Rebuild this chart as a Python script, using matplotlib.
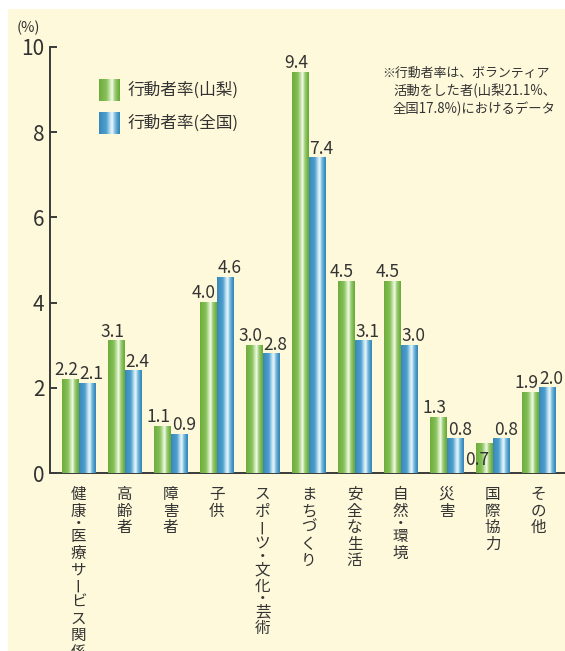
import numpy as np
import matplotlib
matplotlib.use("Agg")
import matplotlib.pyplot as plt
from matplotlib.colors import LinearSegmentedColormap
from matplotlib.patches import Rectangle

plt.rcParams['font.family'] = ['Noto Sans CJK JP', 'DejaVu Sans']

# ---- data ----
categories = ["健康・医療サービス関係", "高齢者", "障害者", "子供", "スポーツ・文化・芸術",
              "まちづくり", "安全な生活", "自然・環境", "災害", "国際協力", "その他"]
yamanashi = [2.2, 3.1, 1.1, 4.0, 3.0, 9.4, 4.5, 4.5, 1.3, 0.7, 1.9]
zenkoku = [2.1, 2.4, 0.9, 4.6, 2.8, 7.4, 3.1, 3.0, 0.8, 0.8, 2.0]
series_names = ["行動者率(山梨)", "行動者率(全国)"]
yticks = [0, 2, 4, 6, 8, 10]
note_lines = ["※行動者率は、ボランティア", "活動をした者(山梨21.1%、", "全国17.8%)におけるデータ"]

# ---- style ----
W, H = 565, 651
TXT = "#333333"
CREAM = "#FEF9DA"
green_stops = [(0.0, '#6dac3c'), (0.35, '#86c159'), (0.52, '#c9e6ad'), (0.63, '#f6fbee'),
               (0.74, '#a7d282'), (0.88, '#7cba4c'), (1.0, '#68a63a')]
blue_stops = [(0.0, '#3887ba'), (0.35, '#4ea0ce'), (0.52, '#b8ddef'), (0.63, '#f0f8fc'),
              (0.74, '#8cc6e3'), (0.88, '#4a9bca'), (1.0, '#3383b4')]
cmap_g = LinearSegmentedColormap.from_list("g", green_stops)
cmap_b = LinearSegmentedColormap.from_list("b", blue_stops)
grad = np.linspace(0, 1, 256).reshape(1, -1)

fig = plt.figure(figsize=(W / 100, H / 100), dpi=100)
fig.patch.set_facecolor("white")
fig.patches.append(Rectangle((8 / W, 0), 1, 1 - 9 / H, transform=fig.transFigure,
                             facecolor=CREAM, edgecolor='none', zorder=-10))

ax = fig.add_axes([50 / W, (H - 473) / H, 1 - 50 / W, (473 - 47) / H])
ax.set_facecolor('none')

x = np.arange(len(categories))
bw = 0.36
bars_g = ax.bar(x - bw / 2, yamanashi, bw, color='#7cba4c', linewidth=0, zorder=2)
bars_b = ax.bar(x + bw / 2, zenkoku, bw, color='#4a9bca', linewidth=0, zorder=2)

for bars, cm in ((bars_g, cmap_g), (bars_b, cmap_b)):
    for b in bars:
        x0, w_, h_ = b.get_x(), b.get_width(), b.get_height()
        ax.imshow(grad, cmap=cm, aspect='auto', extent=(x0, x0 + w_, 0, h_),
                  interpolation='bilinear', zorder=3)

ax.set_xlim(-0.62, 10.576)
ax.set_ylim(0, 10)
ax.set_yticks(yticks)
ax.set_xticks([])
for s in ('top', 'right'):
    ax.spines[s].set_visible(False)
for s in ('left', 'bottom'):
    ax.spines[s].set_color('#3a3a3a')
    ax.spines[s].set_linewidth(1.4)
ax.tick_params(axis='y', direction='in', length=5, width=1.4, color='#3a3a3a',
               labelsize=15, labelcolor=TXT, pad=4)

# value labels
special = {(0, 9): (-5, -16)}
for si, (vals, dx) in enumerate(((yamanashi, -3), (zenkoku, 3.5))):
    for i, v in enumerate(vals):
        cx = i + (bw / 2 if si else -bw / 2)
        ox, oy = special.get((si, i), (dx, 3))
        ax.annotate(f"{v:.1f}", xy=(cx, v), xytext=(ox, oy), textcoords='offset points',
                    ha='center', va='baseline', fontsize=12.5, color=TXT, zorder=5,
                    annotation_clip=False)

# vertical category labels (one character per cell, top to bottom)
em_pt = 11.2
px2pt = 0.72
adv_norm = 16.5 * px2pt
adv_dot = 9.0 * px2pt
start = 12 * px2pt
for i, cat in enumerate(categories):
    cur = start
    for ch in cat:
        adv = adv_dot if ch == '・' else adv_norm
        cy = cur + adv / 2
        if ch == 'ー':
            ax.annotate(ch, xy=(i, 0), xytext=(0, -cy), textcoords='offset points',
                        ha='center', va='center', rotation=90, fontsize=em_pt,
                        color=TXT, annotation_clip=False)
        else:
            ax.annotate(ch, xy=(i, 0), xytext=(0, -(cy + 0.38 * em_pt)),
                        textcoords='offset points', ha='center', va='baseline',
                        fontsize=em_pt, color=TXT, annotation_clip=False)
        cur += adv

def fx(px):
    return px / W

def fy(py):
    return 1 - py / H

fig.text(fx(28), fy(28), "(%)", ha='center', va='center', fontsize=10.5, color=TXT)

# legend
for k, (name, cm) in enumerate(zip(series_names, (cmap_g, cmap_b))):
    top = 79 + k * 33
    lax = fig.add_axes([fx(99), fy(top + 22), 21 / W, 22 / H])
    lax.imshow(grad, cmap=cm, aspect='auto', interpolation='bilinear')
    lax.axis('off')
    fig.text(fx(128), fy(top + 11), name, ha='left', va='center', fontsize=12, color=TXT)

# note
fig.text(fx(382), fy(73), note_lines[0], ha='left', va='center', fontsize=9.3, color=TXT)
fig.text(fx(393), fy(91), note_lines[1], ha='left', va='center', fontsize=9.6, color=TXT)
fig.text(fx(393), fy(109), note_lines[2], ha='left', va='center', fontsize=9.6, color=TXT)

fig.savefig("out.png", dpi=100, facecolor=fig.get_facecolor())
